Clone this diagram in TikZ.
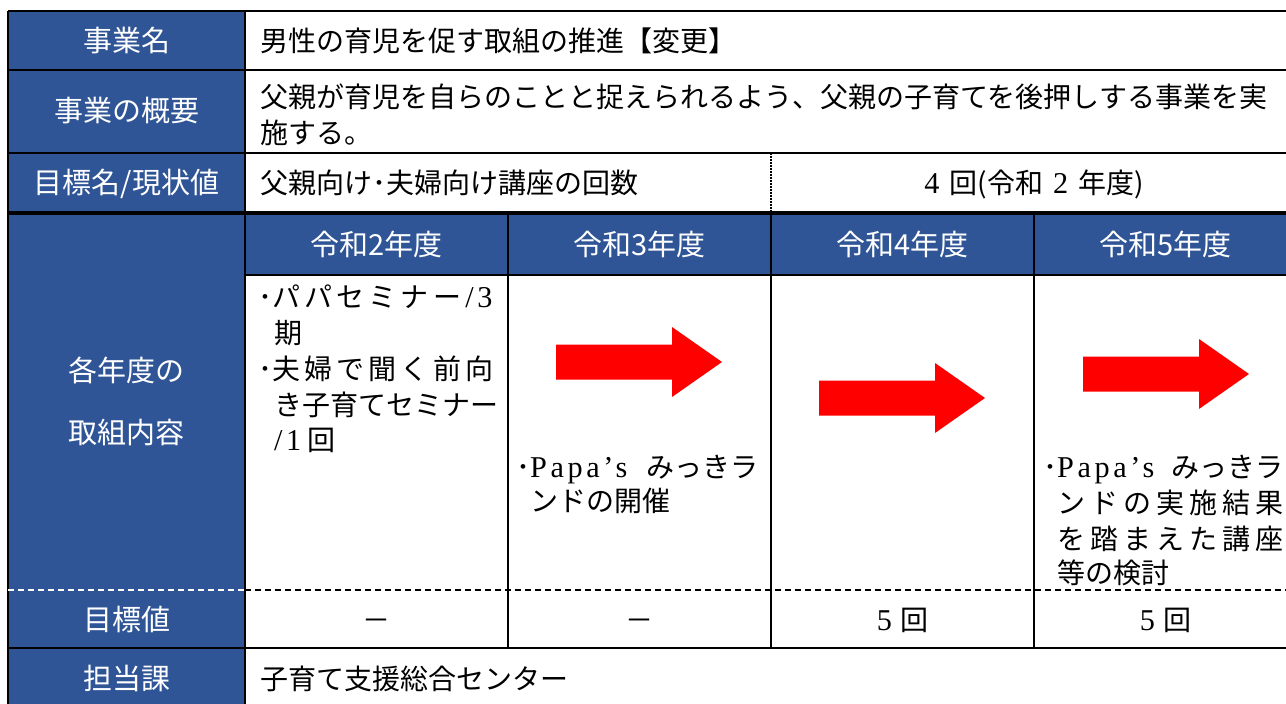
\documentclass[tikz,border=0pt]{standalone}
\usepackage{fontspec}
\setmainfont{Noto Sans CJK JP}
\newfontfamily\latn{Liberation Serif}
\newfontfamily\latnwide[LetterSpace=12,Scale=1.08]{Liberation Serif}
\definecolor{hdrblue}{RGB}{47,85,151}
\definecolor{arrred}{RGB}{255,0,0}
\begin{document}
\begin{tikzpicture}[x=1pt,y=-1pt,
    hdr/.style={text=white,font=\fontsize{29}{35}\selectfont,text height=24pt,text depth=4pt,inner sep=0pt},
    cell/.style={text=black,font=\fontsize{28}{34}\selectfont,text height=24pt,text depth=4pt,inner sep=0pt},
    rule/.style={line width=2.5pt},
    bigarrow/.pic={\fill[arrred] (0,-17.5) -- (116,-17.5) -- (116,-35) -- (166,0) -- (116,35) -- (116,17.5) -- (0,17.5) -- cycle;}]
    \useasboundingbox (0,0) rectangle (1286,704);
    \clip (0,0) rectangle (1286,704);
    
    \fill[white] (0,0) rectangle (1286,704);
    \fill[hdrblue] (8,11) rectangle (245,710);
    \fill[hdrblue] (245,213) rectangle (1297,275);
    
    \draw[rule] (8,11) -- (1297,11);
    \draw[rule] (8,70) -- (1297,70);
    \draw[rule] (8,153) -- (1297,153);
    \draw[line width=4.5pt] (8,213) -- (1297,213);
    \draw[rule] (245,275) -- (1297,275);
    \draw[rule] (8,648) -- (1297,648);
    \draw[rule] (8,708) -- (1297,708);
    \draw[rule] (8,11) -- (8,710);
    \draw[rule] (245,11) -- (245,710);
    \draw[rule] (1297,11) -- (1297,710);
    \foreach \x in {508,771,1034}
        \draw[rule] (\x,213) -- (\x,648);
    \draw[line width=1.5pt,dash pattern=on 1.5pt off 1.5pt] (771,153) -- (771,213);
    \draw[line width=2pt,dash pattern=on 6pt off 4pt] (245,590) -- (1297,590);
    \draw[white,line width=2pt,dash pattern=on 6pt off 4pt] (8,590) -- (245,590);
    
    \node[hdr] (lname) at (126.5,41) {事業名};
    \node[hdr] (lsummary) at (126.5,111) {事業の概要};
    \node[hdr] (ltarget) at (126.5,183) {目標名/現状値};
    \node[hdr] (lplanA) at (126.5,371) {各年度の};
    \node[hdr] (lplanB) at (126.5,433) {取組内容};
    \node[hdr] (lgoal) at (126.5,620) {目標値};
    \node[hdr] (lsection) at (126.5,679) {担当課};
    \foreach \x/\n in {376.5/2,639.5/3,902.5/4,1165.5/5}
        \node[hdr] (year\n) at (\x,245) {令和\n{}年度};
    
    \node[cell,anchor=west] (name) at (260,41) {男性の育児を促す取組の推進【変更】};
    \node[cell,anchor=west] (sumA) at (260,97) {父親が育児を自らのことと捉えられるよう、父親の子育てを後押しする事業を実};
    \node[cell,anchor=west] (sumB) at (260,133) {施する。};
    \node[cell,anchor=west] (tname) at (260,183) {父親向け･夫婦向け講座の回数};
    \node[cell] (tnow) at (1034,183) {{\latnwide 4}\hspace{10pt}回(令和\hspace{10pt}{\latnwide 2}\hspace{10pt}年度)};
    
    \node[cell,anchor=west] (planA) at (258,297) {･\makebox[214pt][s]{パ パ セ ミ ナ ー {\latnwide /3}}};
    \node[cell,anchor=west] (planB) at (274,333) {期};
    \node[cell,anchor=west] (planC) at (258,369) {･\makebox[214pt][s]{夫 婦 で 聞 く 前 向}};
    \node[cell,anchor=west] (planD) at (274,405) {き子育てセミナー};
    \node[cell,anchor=west] (planE) at (274,440) {{\latnwide /1} 回};
    
    \node[cell,anchor=west] (papaA) at (516,467) {･\makebox[228pt][s]{{\latnwide Papa’s} みっきラ}};
    \node[cell,anchor=west] (papaB) at (530,501) {ンドの開催};
    
    \node[cell,anchor=west] (nextA) at (1043,467) {･\makebox[226pt][s]{{\latnwide Papa’s} みっきラ}};
    \node[cell,anchor=west] (nextB) at (1057,503) {\makebox[226pt][s]{ン ド の 実 施 結 果}};
    \node[cell,anchor=west] (nextC) at (1057,539) {\makebox[226pt][s]{を 踏 ま え た 講 座}};
    \node[cell,anchor=west] (nextD) at (1057,573) {等の検討};
    
    \pic at (556,362) {bigarrow};
    \pic at (819,398) {bigarrow};
    \pic at (1083,374) {bigarrow};
    
    \node[cell] (goal2) at (376.5,620) {－};
    \node[cell] (goal3) at (639.5,620) {－};
    \node[cell] (goal4) at (902.5,620) {{\latnwide 5}\hspace{8pt}回};
    \node[cell] (goal5) at (1165.5,620) {{\latnwide 5}\hspace{8pt}回};
    
    \node[cell,anchor=west] (section) at (260,679) {子育て支援総合センター};
\end{tikzpicture}
\end{document}
